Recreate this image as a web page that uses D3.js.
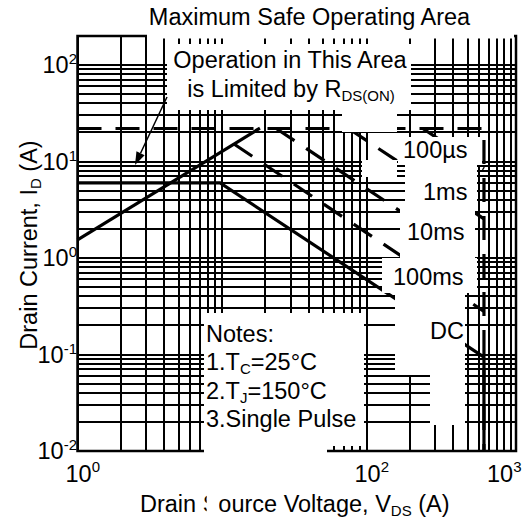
<!DOCTYPE html>
<html>
<head>
<meta charset="utf-8">
<script src="https://cdnjs.cloudflare.com/ajax/libs/d3/7.8.5/d3.min.js"></script>
<style>
  body { margin: 0; background: #fff; }
  text { font-family: "Liberation Sans", Arial, sans-serif; fill: #000; }
</style>
</head>
<body>
<svg width="528" height="523"></svg>
<script>
// curves as [V, I] points
const currentLimit = [[1, 22], [650, 22], [650, 0.01]]
const rdsLine = [[1, 1.54], [18.3, 22.2]]
const dcLine = [[1, 6], [9.7, 6], [650, 0.094], [650, 0.01]]
const pulse100us = [[245, 22], [650, 8.4]]
const pulse1ms = [[75, 22], [650, 2.55]]
const pulse10ms = [[23.7, 22], [650, 0.81]]
const pulse100ms = [[12.1, 15.2], [650, 0.28]]

const xTicks = [1, 10, 100, 1000]
const xTickExp = ["0", "1", "2", "3"]
const yTicks = [0.01, 0.1, 1, 10, 100]
const yTickExp = ["-2", "-1", "0", "1", "2"]

const pulseLabels = ["100µs", "1ms", "10ms", "100ms", "DC"]
const notes = ["Notes:", "1.T|C|=25°C", "2.T|J|=150°C", "3.Single Pulse"]

const svg = d3.select("svg")
const pLeft = 77.5, pRight = 511, pTop = 36, pBottom = 451

const x = d3.scaleLog().domain([1, 1000]).range([pLeft, pRight])
const y = d3.scaleLog().domain([0.01, 200]).range([pBottom, pTop])

const line = d3.line().x(d => x(d[0])).y(d => y(d[1]))

// grid
svg.append("g")
  .selectAll("line")
  .data(x.ticks())
  .enter().append("line")
  .attr("x1", d => x(d)).attr("x2", d => x(d))
  .attr("y1", pTop).attr("y2", pBottom)
  .attr("stroke", "#000").attr("stroke-width", 2)
  .attr("shape-rendering", "crispEdges")

svg.append("g")
  .selectAll("line")
  .data(y.ticks().filter(d => d <= 100))
  .enter().append("line")
  .attr("x1", pLeft).attr("x2", 516)
  .attr("y1", d => y(d)).attr("y2", d => y(d))
  .attr("stroke", "#000").attr("stroke-width", 2)
  .attr("shape-rendering", "crispEdges")

svg.append("rect")
  .attr("x", pLeft).attr("y", pTop)
  .attr("width", 516 - pLeft).attr("height", pBottom - pTop)
  .attr("fill", "none").attr("stroke", "#000").attr("stroke-width", 2.5)

// curves
svg.append("path").datum(currentLimit).attr("d", line)
  .attr("fill", "none").attr("stroke", "#000").attr("stroke-width", 3.2)
  .attr("stroke-dasharray", "24,14")

const pulses = [pulse100us, pulse1ms, pulse10ms, pulse100ms]
svg.append("g").selectAll("path")
  .data(pulses)
  .enter().append("path")
  .attr("d", line)
  .attr("fill", "none").attr("stroke", "#000").attr("stroke-width", 3.2)
  .attr("stroke-dasharray", "22,14")

svg.append("path").datum(rdsLine).attr("d", line)
  .attr("fill", "none").attr("stroke", "#000").attr("stroke-width", 3.2)
svg.append("path").datum(dcLine).attr("d", line)
  .attr("fill", "none").attr("stroke", "#000").attr("stroke-width", 3.2)

// white label backgrounds
const boxes = [
  [147, 0, 367, 38.5],
  [167, 44, 244, 66],
  [342, 108, 55, 24],
  [362, 160, 35, 17],
  [398, 137, 84, 28],
  [405, 165, 72, 40],
  [400, 205, 75, 53],
  [382, 258, 95, 35],
  [395, 293, 70, 82],
  [430, 375, 35, 50],
  [204, 313, 160, 133]
]
svg.append("g").selectAll("rect")
  .data(boxes)
  .enter().append("rect")
  .attr("x", d => d[0]).attr("y", d => d[1])
  .attr("width", d => d[2]).attr("height", d => d[3])
  .attr("fill", "#fff")

const big = 23.5, small = 15

// tick labels
const yLab = svg.append("g").selectAll("text")
  .data(yTicks)
  .enter().append("text")
  .attr("x", 77).attr("y", d => y(d) + 8)
  .attr("text-anchor", "end")
  .attr("font-size", big)
yLab.append("tspan").text("10")
yLab.append("tspan").attr("font-size", small).attr("dy", -9).text((d, i) => yTickExp[i])

const xLab = svg.append("g").selectAll("text")
  .data(xTicks)
  .enter().append("text")
  .attr("x", d => Math.min(x(d) - 12, 487))
  .attr("y", 482)
  .attr("font-size", big)
xLab.append("tspan").text("10")
xLab.append("tspan").attr("font-size", small).attr("dy", -10).text((d, i) => xTickExp[i])

// the 10^1 tick label sits under the notes box
svg.append("rect").attr("x", 204).attr("y", 446).attr("width", 123).attr("height", 42).attr("fill", "#fff")

// title
svg.append("text").attr("x", 309.5).attr("y", 25)
  .attr("text-anchor", "middle").attr("font-size", big)
  .text("Maximum Safe Operating Area")

// axis titles
const xt = svg.append("text").attr("x", 140).attr("y", 512).attr("font-size", big)
xt.append("tspan").text("Drain Source Voltage, V")
xt.append("tspan").attr("font-size", small).attr("dy", 4).text("DS")
xt.append("tspan").attr("dy", -4).text(" (A)")
const sPos = xt.node().getStartPositionOfChar(6).x
svg.append("rect").attr("x", sPos + 4).attr("y", 488)
  .attr("width", 12).attr("height", 30).attr("fill", "#fff")

const yt = svg.append("text")
  .attr("transform", "translate(37,245) rotate(-90)")
  .attr("text-anchor", "middle").attr("font-size", big)
yt.append("tspan").text("Drain Current, I")
yt.append("tspan").attr("font-size", small).attr("dy", 4).text("D")
yt.append("tspan").attr("dy", -4).text(" (A)")

// R_DS(on) annotation
svg.append("text").attr("x", 290).attr("y", 68)
  .attr("text-anchor", "middle").attr("font-size", big)
  .text("Operation in This Area")
const r2 = svg.append("text").attr("x", 291).attr("y", 97)
  .attr("text-anchor", "middle").attr("font-size", big)
r2.append("tspan").text("is Limited by R")
r2.append("tspan").attr("font-size", small).attr("dy", 4).text("DS(ON)")

const a0 = [167, 97], a1 = [135, 165]
const ang = Math.atan2(a1[1] - a0[1], a1[0] - a0[0])
const hl = 13, hw = 4.5
const bx = a1[0] - hl * Math.cos(ang), by = a1[1] - hl * Math.sin(ang)
svg.append("line")
  .attr("x1", a0[0]).attr("y1", a0[1]).attr("x2", bx).attr("y2", by)
  .attr("stroke", "#000").attr("stroke-width", 1.5)
svg.append("polygon")
  .attr("points", [
    a1,
    [bx + hw * Math.sin(ang), by - hw * Math.cos(ang)],
    [bx - hw * Math.sin(ang), by + hw * Math.cos(ang)]
  ].map(p => p.join(",")).join(" "))
  .attr("fill", "#000")

// pulse labels
const labelPos = [[403, 158], [423, 200], [407, 240], [393, 285], [430, 339]]
svg.append("g").selectAll("text")
  .data(pulseLabels)
  .enter().append("text")
  .attr("x", (d, i) => labelPos[i][0]).attr("y", (d, i) => labelPos[i][1])
  .attr("font-size", big)
  .text(d => d)

// notes
const nt = svg.append("g").selectAll("text")
  .data(notes)
  .enter().append("text")
  .attr("x", 206).attr("y", (d, i) => 342 + i * 28.4)
  .attr("font-size", big)
nt.each(function(d) {
  const parts = d.split("|")
  const t = d3.select(this)
  t.append("tspan").text(parts[0])
  if (parts.length > 1) {
    t.append("tspan").attr("font-size", small).attr("dy", 4).text(parts[1])
    t.append("tspan").attr("dy", -4).text(parts[2])
  }
})
</script>
</body>
</html>
